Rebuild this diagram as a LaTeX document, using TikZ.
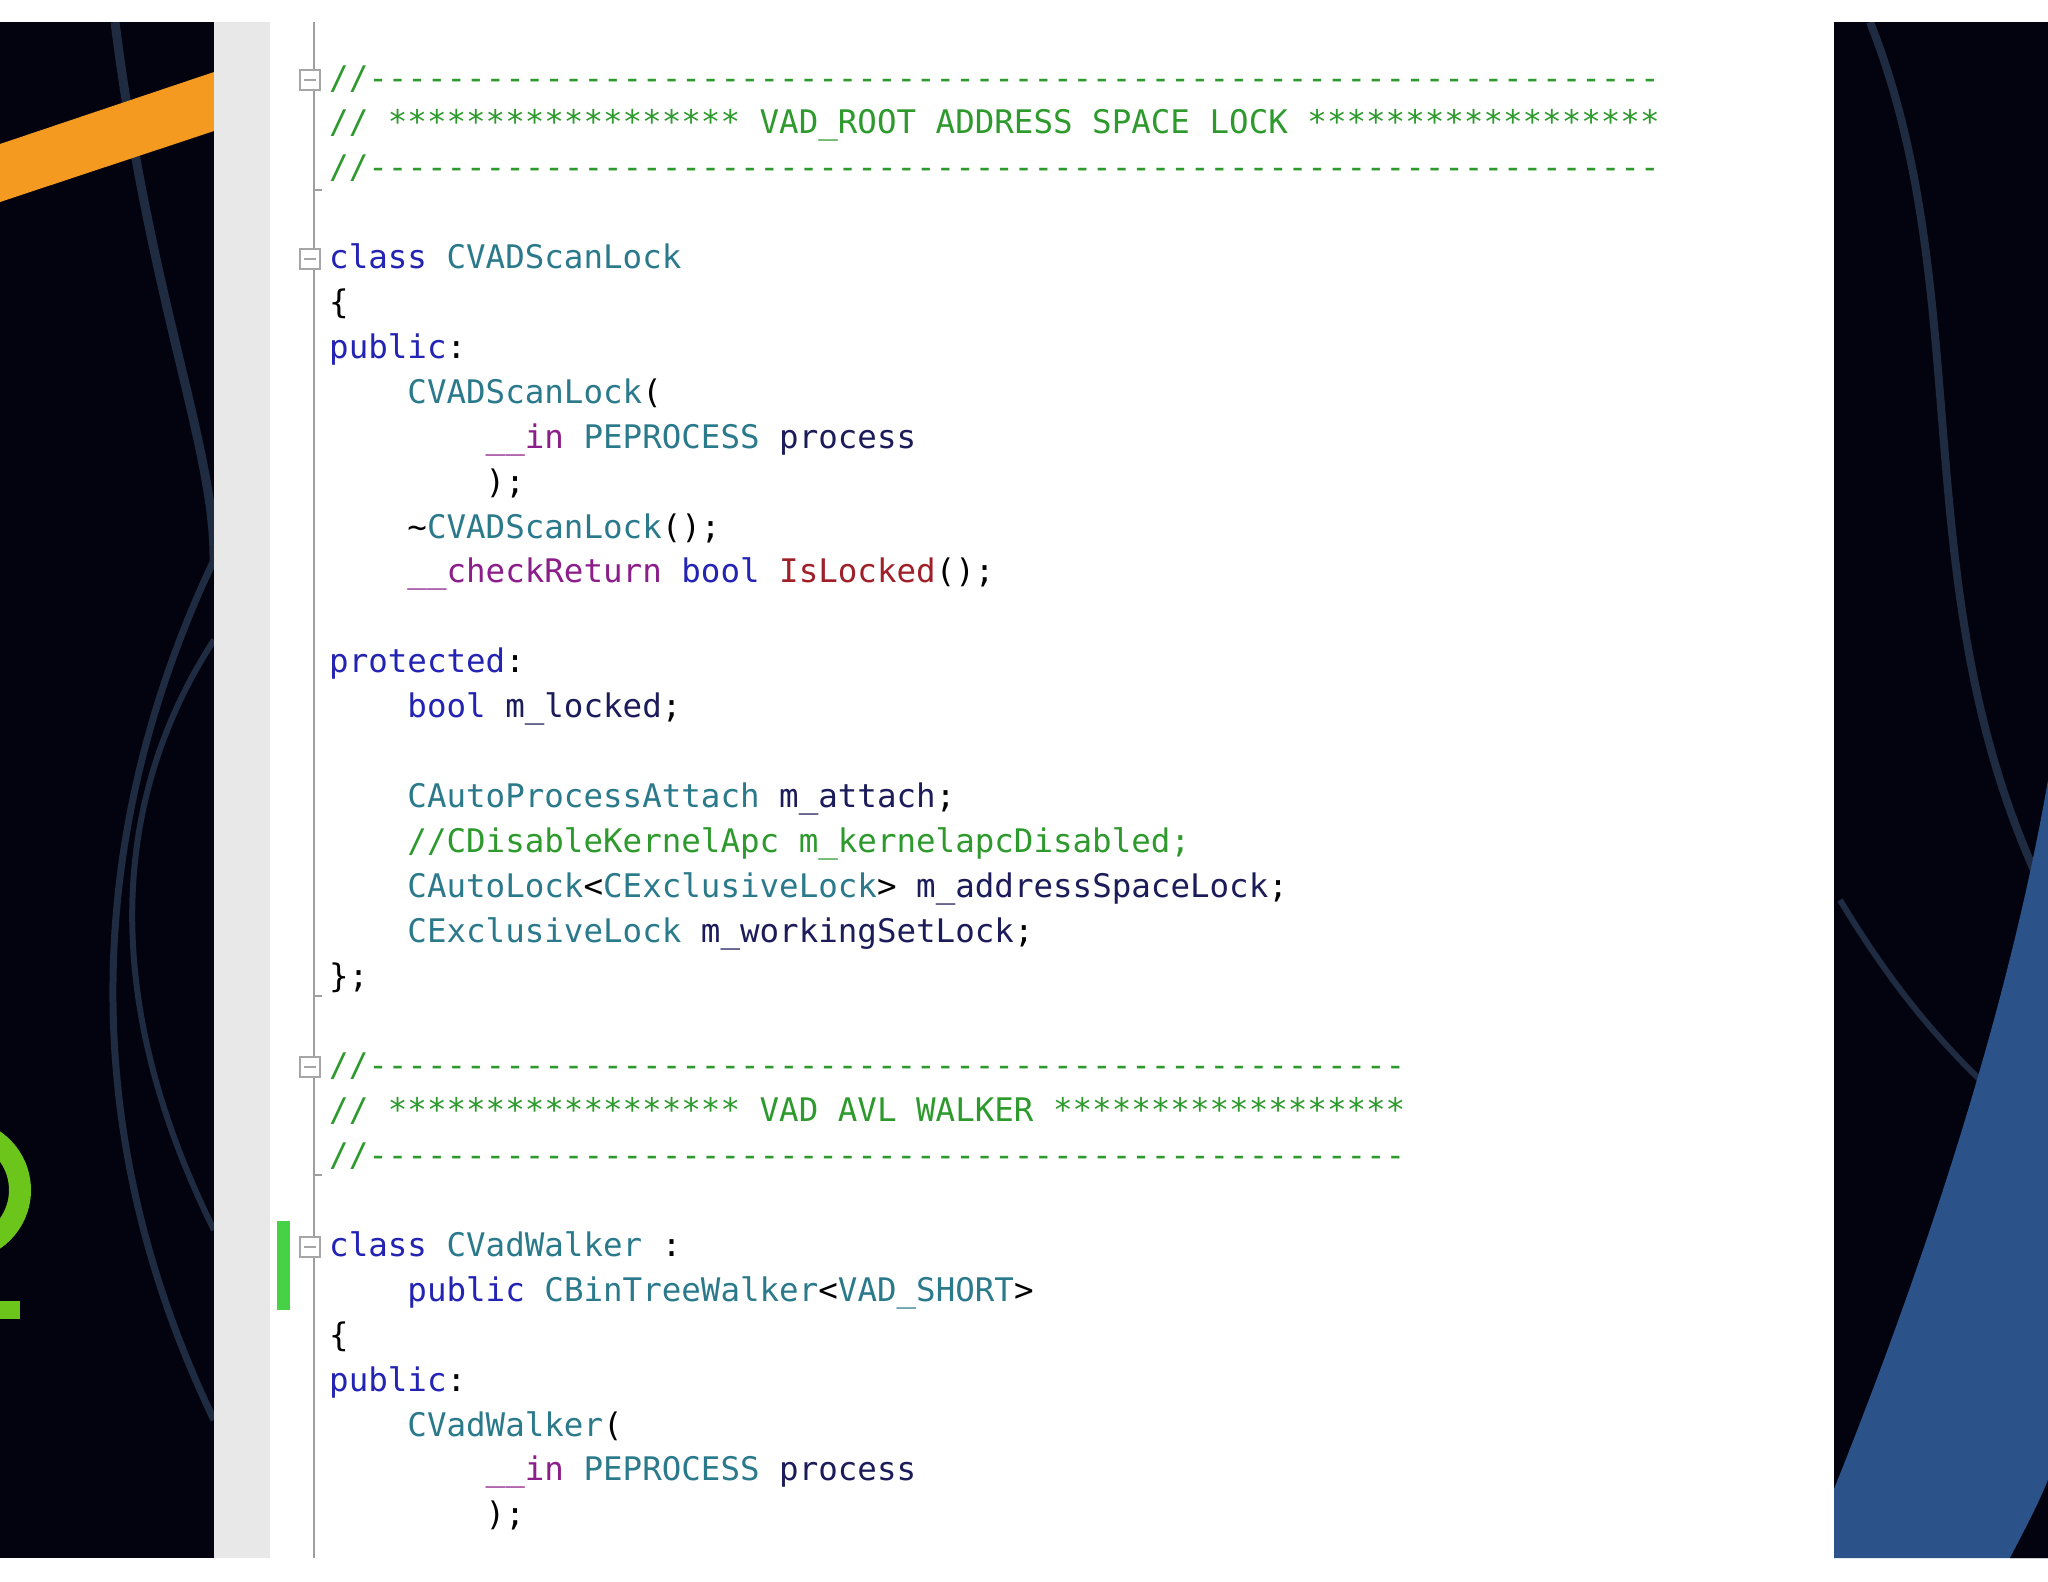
\documentclass[tikz,border=0pt]{standalone}
\usepackage{fontspec}
\newfontfamily\codefont{DejaVu Sans Mono}
\definecolor{cm}{HTML}{2E9A2E}
\definecolor{kw}{HTML}{2323B4}
\definecolor{ty}{HTML}{2B7A8C}
\definecolor{idc}{HTML}{1C1C5A}
\definecolor{an}{HTML}{8B1E8B}
\definecolor{fnc}{HTML}{A0202A}
\definecolor{darkbg}{HTML}{02030F}
\definecolor{curve}{HTML}{1F2B40}
\definecolor{bluebg}{HTML}{2B5289}
\definecolor{orng}{HTML}{F59A20}
\definecolor{lime}{HTML}{6CC51A}
\newcommand{\Kw}[1]{\textcolor{kw}{#1}}
\newcommand{\Ty}[1]{\textcolor{ty}{#1}}
\newcommand{\Cm}[1]{\textcolor{cm}{#1}}
\newcommand{\Id}[1]{\textcolor{idc}{#1}}
\newcommand{\An}[1]{\textcolor{an}{#1}}
\newcommand{\Fn}[1]{\textcolor{fnc}{#1}}
\begin{document}
\begin{tikzpicture}[x=1pt,y=-1pt,
  code/.style={anchor=base west,inner sep=0pt,font=\codefont\fontsize{32.5}{38}\selectfont,text=black},
  fold/.style={draw=gray!70,fill=white,minimum size=20pt,inner sep=0pt,line width=1.5pt}]
\useasboundingbox (0,0) rectangle (2048,1582);
\fill[white] (0,0) rectangle (2048,1582);
% left panel
\begin{scope}
\clip (0,22) rectangle (214,1558);
\fill[darkbg] (0,22) rectangle (214,1558);
\draw[curve,line width=9pt] (115,22) .. controls (150,300) and (215,450) .. (214,560);
\draw[curve,line width=7pt] (214,560) .. controls (100,800) and (60,1100) .. (214,1420);
\draw[curve,line width=6pt] (214,640) .. controls (110,800) and (100,1000) .. (214,1230);
\fill[orng] (0,144) -- (214,72) -- (214,131) -- (0,202) -- cycle;
\draw[lime,line width=22pt] (-40,1250) arc[start angle=90,end angle=-60,radius=60];
\draw[lime,line width=18pt] (-40,1310) -- (20,1310);
\end{scope}
% right panel
\begin{scope}
\clip (1834,22) rectangle (2048,1558);
\fill[darkbg] (1834,22) rectangle (2048,1558);
\draw[curve,line width=8pt] (1870,22) .. controls (1980,300) and (1900,600) .. (2048,900);
\draw[curve,line width=6pt] (1840,900) .. controls (1900,1000) and (1950,1050) .. (1980,1080);
\fill[bluebg] (1834,1489) .. controls (1930,1250) and (2010,1000) .. (2048,780) -- (2048,1558) -- (1834,1558) -- cycle;
\fill[darkbg] (2010,1558) .. controls (2030,1520) and (2040,1500) .. (2048,1480) -- (2048,1558) -- cycle;
\end{scope}
% gutter
\fill[gray!18] (214,22) rectangle (270,1558);
\fill[green!60!gray!90] (277,1221) rectangle (290,1310);
\draw[gray!75,line width=1.5pt] (314,22) -- (314,1558);
\foreach \yy in {190,996,1175}{\draw[gray!75,line width=1.5pt] (314,\yy) -- (322,\yy);}
\foreach \nm/\yy in {f1/80,f2/259,f3/1067,f4/1247}{
  \node[fold] (\nm) at (310,\yy) {};
  \draw[gray!70,line width=2pt] ([xshift=-6pt]\nm.center) -- ([xshift=6pt]\nm.center);}
% code
\def\L#1{\fpeval{89+44.9*#1}}
\node[code] (l0) at (329,\L{0}) {\Cm{//------------------------------------------------------------------}};
\node[code] (l1) at (329,\L{1}) {\Cm{// ****************** VAD\_ROOT ADDRESS SPACE LOCK ******************}};
\node[code] (l2) at (329,\L{2}) {\Cm{//------------------------------------------------------------------}};
\node[code] (l4) at (329,\L{4}) {\Kw{class} \Ty{CVADScanLock}};
\node[code] (l5) at (329,\L{5}) {\{};
\node[code] (l6) at (329,\L{6}) {\Kw{public}:};
\node[code] (l7) at (329,\L{7}) {\phantom{xxxx}\Ty{CVADScanLock}(};
\node[code] (l8) at (329,\L{8}) {\phantom{xxxxxxxx}\An{\_\_in} \Ty{PEPROCESS} \Id{process}};
\node[code] (l9) at (329,\L{9}) {\phantom{xxxxxxxx});};
\node[code] (l10) at (329,\L{10}) {\phantom{xxxx}\textasciitilde\Ty{CVADScanLock}();};
\node[code] (l11) at (329,\L{11}) {\phantom{xxxx}\An{\_\_checkReturn} \Kw{bool} \Fn{IsLocked}();};
\node[code] (l13) at (329,\L{13}) {\Kw{protected}:};
\node[code] (l14) at (329,\L{14}) {\phantom{xxxx}\Kw{bool} \Id{m\_locked};};
\node[code] (l16) at (329,\L{16}) {\phantom{xxxx}\Ty{CAutoProcessAttach} \Id{m\_attach};};
\node[code] (l17) at (329,\L{17}) {\phantom{xxxx}\Cm{//CDisableKernelApc m\_kernelapcDisabled;}};
\node[code] (l18) at (329,\L{18}) {\phantom{xxxx}\Ty{CAutoLock}<\Ty{CExclusiveLock}> \Id{m\_addressSpaceLock};};
\node[code] (l19) at (329,\L{19}) {\phantom{xxxx}\Ty{CExclusiveLock} \Id{m\_workingSetLock};};
\node[code] (l20) at (329,\L{20}) {\};};
\node[code] (l22) at (329,\L{22}) {\Cm{//-----------------------------------------------------}};
\node[code] (l23) at (329,\L{23}) {\Cm{// ****************** VAD AVL WALKER ******************}};
\node[code] (l24) at (329,\L{24}) {\Cm{//-----------------------------------------------------}};
\node[code] (l26) at (329,\L{26}) {\Kw{class} \Ty{CVadWalker} :};
\node[code] (l27) at (329,\L{27}) {\phantom{xxxx}\Kw{public} \Ty{CBinTreeWalker}<\Ty{VAD\_SHORT}>};
\node[code] (l28) at (329,\L{28}) {\{};
\node[code] (l29) at (329,\L{29}) {\Kw{public}:};
\node[code] (l30) at (329,\L{30}) {\phantom{xxxx}\Ty{CVadWalker}(};
\node[code] (l31) at (329,\L{31}) {\phantom{xxxxxxxx}\An{\_\_in} \Ty{PEPROCESS} \Id{process}};
\node[code] (l32) at (329,\L{32}) {\phantom{xxxxxxxx});};
\end{tikzpicture}
\end{document}
